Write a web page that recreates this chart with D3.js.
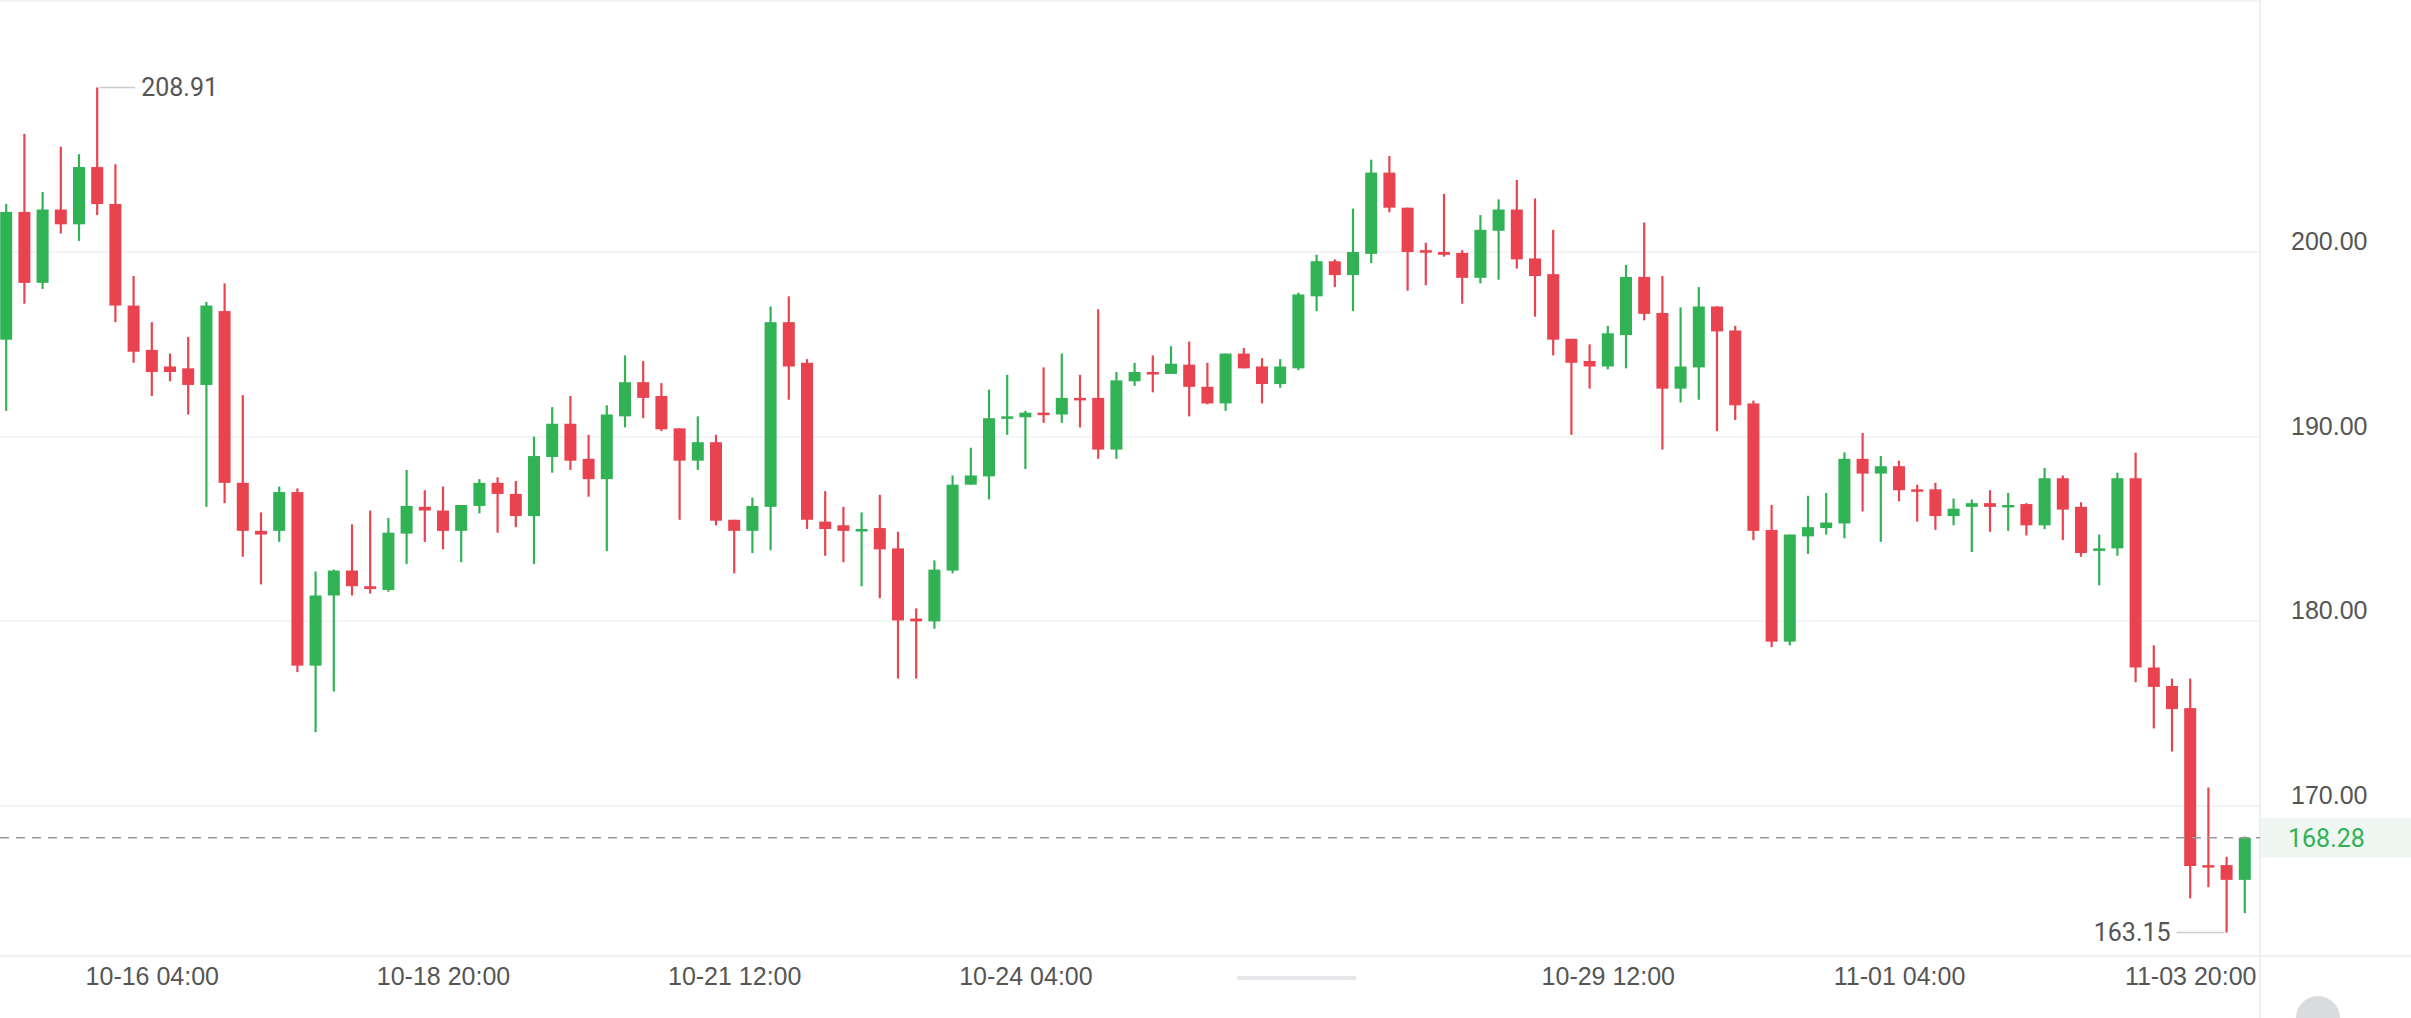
<!DOCTYPE html>
<html>
<head>
<meta charset="utf-8">
<script src="https://cdn.jsdelivr.net/npm/d3@7"></script>
<style>
  html, body { margin: 0; padding: 0; background: #fff; }
  svg { display: block; font-family: Roboto, "Noto Sans", sans-serif; }
</style>
</head>
<body>
<svg id="chart" width="2411" height="1018"></svg>
<script>
// 4h candles, first one is 10-14 20:00
const opens = [195.25,202.17,198.33,202.3,201.5,204.6,202.6,197.1,194.7,193.8,193.7,192.8,196.8,187.5,184.9,184.9,187.0,177.6,181.4,182.75,181.9,181.7,
  184.75,186.2,186.0,184.9,186.25,187.5,186.9,185.7,188.9,190.7,188.8,187.7,191.1,192.95,192.2,190.45,188.7,189.7,185.5,184.9,186.2,196.2,
  194.0,185.4,185.2,184.9,185.05,183.95,180.15,180.0,182.75,187.4,187.85,191.0,191.05,191.3,191.2,192.1,192.1,189.3,193.0,193.5,193.4,
  193.9,192.7,191.8,194.5,193.8,192.85,193.7,197.6,199.5,198.75,199.9,204.3,202.4,200.1,200.0,199.95,198.6,201.15,202.3,199.65,198.8,
  195.3,194.1,193.8,195.5,198.65,196.7,192.6,193.75,197.05,195.75,191.8,184.95,178.9,184.6,185.05,185.3,188.8,188.0,188.4,187.15,187.15,185.7,
  186.2,186.4,186.25,186.35,185.2,187.75,186.2,183.85,183.95,187.75,177.5,176.5,175.3,166.8,166.8,166.0];
const highs = [202.6,206.4,203.25,205.7,205.3,208.91,204.75,198.7,196.2,194.5,195.4,197.3,198.3,192.25,185.9,187.3,187.2,182.7,182.8,185.25,186.0,185.6,
  188.2,187.1,187.3,186.3,187.7,187.8,187.6,190.0,191.6,192.2,190.1,191.7,194.4,194.1,192.9,190.45,191.1,190.1,185.5,186.7,197.05,197.6,
  194.2,187.05,186.2,185.9,186.85,184.85,180.7,183.3,187.9,189.4,192.55,193.35,191.4,193.75,194.5,193.35,196.9,193.5,194.0,194.4,194.9,
  195.15,194.0,194.5,194.8,194.25,194.2,197.8,199.85,199.6,202.35,205.0,205.2,202.4,200.5,203.15,200.1,202.0,202.85,203.9,202.9,201.2,
  195.3,195.0,196.0,199.3,201.6,198.7,197.0,198.1,197.05,196.0,191.95,186.3,184.7,186.8,186.95,189.15,190.2,188.95,188.7,187.4,187.5,186.65,
  186.6,187.1,186.95,186.4,188.3,187.9,186.45,184.7,188.05,189.13,178.7,176.9,176.9,171.0,167.25,168.35];
const lows = [191.4,197.2,198.0,201.0,200.6,202.0,196.2,194.0,192.2,193.0,191.2,186.2,186.4,183.5,182.0,184.3,177.25,174.0,176.2,181.4,181.5,181.6,
  183.1,184.3,183.9,183.2,185.85,184.8,185.1,183.1,188.05,188.2,186.75,183.8,190.5,191.0,190.3,185.5,188.2,185.2,182.6,183.7,183.85,192.0,
  185.0,183.55,183.2,181.9,181.25,176.9,176.9,179.6,182.6,187.4,186.6,190.1,188.25,190.75,190.75,190.5,188.8,188.8,192.75,192.4,193.4,
  191.1,191.75,191.4,193.7,191.8,192.65,193.6,196.8,198.1,196.8,199.4,202.15,197.9,198.2,199.75,197.2,198.3,198.5,199.1,196.5,194.4,
  190.1,192.6,193.65,193.7,196.3,189.3,191.85,192.0,190.3,190.9,184.4,178.6,178.7,183.65,184.7,184.5,185.95,184.3,186.5,185.4,184.95,185.2,
  183.75,184.85,184.9,184.65,185.0,184.4,183.5,181.95,183.55,176.7,174.2,172.95,165.0,165.6,163.15,164.2];
const closes = [202.17,198.33,202.3,201.5,204.6,202.6,197.1,194.6,193.5,193.5,192.8,197.1,187.5,184.9,184.7,187.0,177.6,181.4,182.75,181.9,181.75,184.8,
  186.25,186.0,184.9,186.3,187.5,186.9,185.7,188.95,190.7,188.7,187.7,191.2,192.95,192.1,190.4,188.7,189.7,185.45,184.9,186.25,196.2,193.8,
  185.5,185.0,184.9,185.0,183.9,180.05,180.0,182.8,187.4,187.9,191.0,191.1,191.3,191.2,192.1,192.05,189.3,193.05,193.5,193.4,193.95,
  192.7,191.8,194.5,193.7,192.85,193.8,197.7,199.5,198.75,200.0,204.3,202.4,200.0,200.0,199.85,198.6,201.2,202.3,199.6,198.7,195.25,
  194.0,193.8,195.6,198.65,196.65,192.6,193.8,197.05,195.7,191.7,184.9,178.9,184.7,185.1,185.35,188.8,188.0,188.4,187.1,187.1,185.7,186.1,
  186.4,186.2,186.3,185.2,187.75,186.05,183.7,183.95,187.75,177.5,176.45,175.25,166.75,166.75,166.0,168.28];

const tickIdx = [8, 24, 40, 56, 88, 104, 120];
const tickLabels = ['10-16 04:00', '10-18 20:00', '10-21 12:00', '10-24 04:00', '10-29 12:00', '11-01 04:00', '11-03 20:00'];
const priceTicks = [200, 190, 180, 170];
const lastPrice = 168.28;

const svg = d3.select('#chart');
const plotRight = 2260, plotBottom = 956;
const up = '#31b255', down = '#e8434f';

const x = d3.scaleLinear().domain([0, opens.length - 1]).range([6.2, 6.2 + 18.2 * (opens.length - 1)]);
const y = d3.scaleLinear().domain([170, 200]).range([806, 252]);

// grid
svg.append('g').selectAll('line').data(priceTicks).join('line')
  .attr('x1', 0).attr('x2', plotRight)
  .attr('y1', d => y(d)).attr('y2', d => y(d))
  .attr('stroke', '#f0f1f3').attr('stroke-width', 1.5);
svg.append('line').attr('x1', 0).attr('x2', plotRight).attr('y1', 1).attr('y2', 1)
  .attr('stroke', '#f0f1f3').attr('stroke-width', 1.5);
svg.append('line').attr('x1', 0).attr('x2', 2411).attr('y1', plotBottom).attr('y2', plotBottom)
  .attr('stroke', '#eceef1').attr('stroke-width', 2);
svg.append('line').attr('x1', plotRight).attr('x2', plotRight).attr('y1', 0).attr('y2', 1018)
  .attr('stroke', '#eceef1').attr('stroke-width', 2);

// right axis
const yAxis = d3.axisRight(y).tickValues(priceTicks).tickSize(0).tickFormat(d3.format('.2f'));
const ya = svg.append('g').attr('transform', `translate(${plotRight + 28},0)`).call(yAxis);
ya.select('.domain').remove();
ya.selectAll('text').attr('fill', '#555').style('font-size', '25px').attr('dy', '-0.1em');

// bottom axis
const xAxis = d3.axisBottom(x).tickValues(tickIdx).tickSize(0).tickFormat((d, i) => tickLabels[i]);
const xa = svg.append('g').attr('transform', `translate(0,${plotBottom + 8})`).call(xAxis);
xa.select('.domain').remove();
xa.selectAll('text').attr('fill', '#555').style('font-size', '25px');
svg.append('rect').attr('x', x(72) - 80).attr('y', 976).attr('width', 120).attr('height', 4)
  .attr('rx', 2).attr('fill', '#e6e7ea');

// candles
const idx = d3.range(opens.length);
const g = svg.append('g');
g.selectAll('line.wick').data(idx).join('line').attr('class', 'wick')
  .attr('x1', i => x(i)).attr('x2', i => x(i))
  .attr('y1', i => y(highs[i])).attr('y2', i => y(lows[i]))
  .attr('stroke', i => closes[i] >= opens[i] ? up : down).attr('stroke-width', 2.2);
g.selectAll('rect.body').data(idx).join('rect').attr('class', 'body')
  .attr('x', i => x(i) - 6).attr('width', 12)
  .attr('y', i => y(Math.max(opens[i], closes[i])))
  .attr('height', i => Math.max(2.5, Math.abs(y(opens[i]) - y(closes[i]))))
  .attr('fill', i => closes[i] >= opens[i] ? up : down);

// max / min markers
const iMax = highs.indexOf(d3.max(highs)), iMin = lows.indexOf(d3.min(lows));
svg.append('line').attr('x1', x(iMax) + 2).attr('x2', x(iMax) + 38)
  .attr('y1', y(highs[iMax])).attr('y2', y(highs[iMax])).attr('stroke', '#ccc').attr('stroke-width', 1.5);
svg.append('text').attr('x', x(iMax) + 44).attr('y', y(highs[iMax])).attr('dy', '0.35em')
  .attr('fill', '#555').style('font-size', '25px').text(highs[iMax].toFixed(2));
svg.append('line').attr('x1', x(iMin) - 50).attr('x2', x(iMin) - 2)
  .attr('y1', y(lows[iMin])).attr('y2', y(lows[iMin])).attr('stroke', '#ccc').attr('stroke-width', 1.5);
svg.append('text').attr('x', x(iMin) - 56).attr('y', y(lows[iMin])).attr('dy', '0.35em')
  .attr('text-anchor', 'end').attr('fill', '#555').style('font-size', '25px').text(lows[iMin].toFixed(2));

// last price
svg.append('line').attr('x1', 0).attr('x2', plotRight).attr('y1', y(lastPrice)).attr('y2', y(lastPrice))
  .attr('stroke', '#999').attr('stroke-width', 1.5).attr('stroke-dasharray', '9,7');
svg.append('rect').attr('x', plotRight + 1).attr('y', y(lastPrice) - 20).attr('width', 150).attr('height', 40)
  .attr('fill', '#f0f7f2');
svg.append('text').attr('x', plotRight + 28).attr('y', y(lastPrice)).attr('dy', '0.35em')
  .attr('fill', up).style('font-size', '25px').text(lastPrice.toFixed(2));

svg.append('circle').attr('cx', 2318).attr('cy', 1018).attr('r', 22).attr('fill', '#d9dbdf');
</script>
</body>
</html>
